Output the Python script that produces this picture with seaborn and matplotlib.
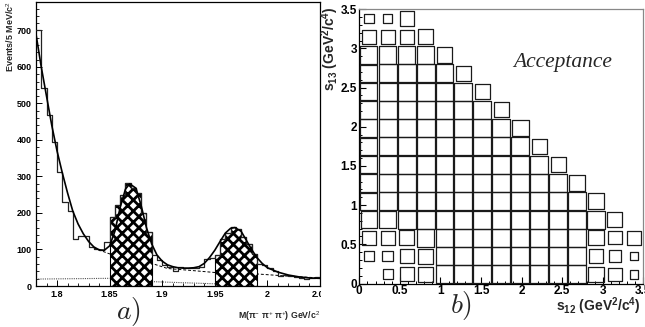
import numpy as np
import pandas as pd
import matplotlib
matplotlib.use("Agg")
import matplotlib.pyplot as plt
import seaborn as sns
from matplotlib.transforms import Bbox, TransformedBbox
from matplotlib.ticker import MultipleLocator, FixedLocator, FuncFormatter

sns.set_theme(style="white")
plt.rcParams['font.family'] = ['Liberation Sans', 'DejaVu Sans']
plt.rcParams['mathtext.fontset'] = 'custom'
plt.rcParams['mathtext.rm'] = 'Liberation Sans'
plt.rcParams['mathtext.bf'] = 'Liberation Sans:bold'
plt.rcParams['mathtext.it'] = 'Liberation Sans:italic'
plt.rcParams['hatch.linewidth'] = 2.0
plt.rcParams['hatch.color'] = 'black'

# ---------------- data: panel a) ----------------
mass_lo = 1.78
mass_hi = 2.05
bin_width = 0.005
counts = [702, 542, 469, 395, 312, 230, 205, 130, 138, 136,
          106, 101, 98, 121, 188, 222, 250, 281, 268, 256,
          200, 147, 84, 70, 58, 52, 42, 52, 50, 49,
          48, 52, 75, 76, 85, 130, 145, 162, 155, 135,
          115, 88, 61, 58, 48, 42, 27, 30, 28, 25,
          22, 20, 22, 24]
signal_windows = [(1.85, 1.89), (1.95, 1.99)]

fit_x = [1.78, 1.785, 1.79, 1.795, 1.80, 1.805, 1.81, 1.815, 1.82, 1.825,
         1.83, 1.835, 1.84, 1.845, 1.85, 1.855, 1.86, 1.865, 1.869, 1.875,
         1.88, 1.885, 1.89, 1.895, 1.90, 1.905, 1.91, 1.915, 1.92, 1.925,
         1.93, 1.935, 1.94, 1.945, 1.95, 1.955, 1.96, 1.965, 1.969, 1.975,
         1.98, 1.985, 1.99, 1.995, 2.00, 2.01, 2.02, 2.03, 2.04, 2.05]
fit_y = [690, 600, 520, 440, 370, 310, 255, 205, 170, 143,
         122, 107, 99, 98, 110, 150, 215, 265, 280, 268,
         220, 160, 115, 85, 68, 58, 53, 50, 49, 49,
         50, 53, 62, 78, 98, 122, 145, 158, 160, 150,
         125, 100, 78, 62, 50, 38, 30, 25, 22, 21]

bkg_x = [1.835, 1.85, 1.87, 1.89, 1.905, 1.93, 1.95, 1.97, 1.99, 2.02, 2.05]
bkg_y = [104, 88, 75, 62, 48, 42, 37, 35, 33, 27, 22]

comb_x = [1.78, 1.85, 1.89, 1.95]
comb_y = [19, 21, 12, 6]
comb_group = ['l', 'l', 'r', 'r']

# ---------------- data: panel b) ----------------
dalitz_lo = 0.0
dalitz_hi = 3.5
n_bins = 15
# box side (fraction of bin width), rows from s13 low (row 0) to high (row 14)
box_rows = [
    [0.0, 0.52, 0.75, 0.8, 0.95, 0.95, 0.95, 0.95, 0.95, 0.95, 0.95, 0.95, 0.8, 0.72, 0.45],
    [0.5, 0.55, 0.75, 0.8, 0.95, 0.95, 0.95, 0.95, 0.95, 0.95, 0.95, 0.95, 0.78, 0.65, 0.45],
    [0.75, 0.75, 0.78, 0.92, 0.95, 0.95, 0.95, 0.95, 0.95, 0.95, 0.95, 0.95, 0.8, 0.7, 0.75],
    [0.87, 0.92, 0.95, 0.95, 0.95, 0.95, 0.95, 0.95, 0.95, 0.95, 0.95, 0.95, 0.95, 0.8],
    [0.9, 0.95, 0.95, 0.95, 0.95, 0.95, 0.95, 0.95, 0.95, 0.95, 0.95, 0.95, 0.85],
    [0.92, 0.95, 0.95, 0.95, 0.95, 0.95, 0.95, 0.95, 0.95, 0.95, 0.95, 0.85],
    [0.92, 0.95, 0.95, 0.95, 0.95, 0.95, 0.95, 0.95, 0.95, 0.95, 0.8],
    [0.92, 0.95, 0.95, 0.95, 0.95, 0.95, 0.95, 0.95, 0.95, 0.8],
    [0.92, 0.95, 0.95, 0.95, 0.95, 0.95, 0.95, 0.95, 0.88],
    [0.92, 0.95, 0.95, 0.95, 0.95, 0.95, 0.95, 0.8],
    [0.92, 0.95, 0.95, 0.95, 0.95, 0.95, 0.8],
    [0.92, 0.95, 0.95, 0.95, 0.95, 0.8],
    [0.9, 0.9, 0.9, 0.9, 0.8],
    [0.75, 0.75, 0.75, 0.8],
    [0.5, 0.45, 0.75],
]

W, H = 645, 327
fig = plt.figure(figsize=(W / 100, H / 100), dpi=100)
fig.patch.set_facecolor('white')

# ---------------- panel a ----------------
ax1 = fig.add_axes([36 / W, 1 - 286 / H, (320 - 36) / W, (286 - 2) / H])
edges = np.round(np.arange(len(counts) + 1) * bin_width + mass_lo, 4)
centers = (edges[:-1] + edges[1:]) / 2
hist_df = pd.DataFrame({'m': centers, 'n': counts})

sns.lineplot(x=bkg_x, y=bkg_y, ax=ax1, color='black', lw=0.7,
             linestyle=(0, (3, 2)), zorder=1)
sns.lineplot(x=comb_x, y=comb_y, units=comb_group, estimator=None, ax=ax1,
             color='#555555', lw=0.8, linestyle=(0, (1, 1)), zorder=1)

for lo, hi in signal_windows:
    sel = hist_df[(hist_df.m > lo) & (hist_df.m < hi)]
    sub_edges = [float(e) for e in edges if lo - 1e-9 <= e <= hi + 1e-9]
    sns.histplot(data=sel, x='m', weights='n', bins=sub_edges, element='step',
                 fill=True, facecolor='white', edgecolor='black', hatch='xxx',
                 linewidth=0.8, alpha=1, ax=ax1, zorder=2)

sns.histplot(data=hist_df, x='m', weights='n', bins=[float(e) for e in edges],
             element='step', fill=False, color='#222222', linewidth=0.9,
             ax=ax1, zorder=3)
sns.lineplot(x=fit_x, y=fit_y, ax=ax1, color='black', lw=1.2, zorder=4)

ax1.set_xlim(mass_lo, mass_hi)
ax1.set_ylim(0, 778)
ax1.set_xlabel('')
ax1.set_ylabel('')
ax1.xaxis.set_major_locator(FixedLocator([1.8, 1.85, 1.9, 1.95, 2.0, 2.05]))
ax1.set_xticklabels(['1.8', '1.85', '1.9', '1.95', '2', '2.05'])
ax1.xaxis.set_minor_locator(MultipleLocator(0.01))
ax1.yaxis.set_major_locator(MultipleLocator(100))
ax1.yaxis.set_minor_locator(MultipleLocator(20))
ax1.tick_params(axis='both', which='both', direction='in', colors='black',
                labelsize=6.5, bottom=True, left=True, top=False, right=False)
ax1.tick_params(which='major', length=4, width=0.7, pad=3)
ax1.tick_params(which='minor', length=2, width=0.6)
for lbl in ax1.get_xticklabels() + ax1.get_yticklabels():
    lbl.set_fontweight('bold')
for sp in ax1.spines.values():
    sp.set_color('black')
    sp.set_linewidth(0.9)
clip = TransformedBbox(Bbox([[0, 0], [321 / W, 1]]), fig.transFigure)
last = ax1.get_xticklabels()[-1]
last.set_clip_on(True)
last.set_clip_box(clip)

fig.text(10 / W, 1 - 1 / H, 'Events/5 MeV/c$^{2}$', rotation=90, ha='center',
         va='top', fontsize=6.5, fontweight='bold')
fig.text(320 / W, 1 - 316 / H, 'M(π$^{-}$ π$^{+}$ π$^{+}$) GeV/c$^{2}$',
         ha='right', va='center', fontsize=6.3, fontweight='bold')
fig.text(128 / W, 1 - 311 / H, r'$a)$', math_fontfamily='cm', fontsize=20,
         ha='center', va='center')

# ---------------- panel b ----------------
ax2 = fig.add_axes([359.3 / W, 1 - 283.5 / H, (643.3 - 359.3) / W, (283.5 - 9.3) / H])
ax2.set_xlim(dalitz_lo, dalitz_hi)
ax2.set_ylim(dalitz_lo, dalitz_hi)
bedges = np.linspace(dalitz_lo, dalitz_hi, n_bins + 1)
bcent = (bedges[:-1] + bedges[1:]) / 2
bw = bedges[1] - bedges[0]
recs = []
for r, row in enumerate(box_rows):
    for c, f in enumerate(row):
        if f > 0:
            recs.append((bcent[c], bcent[r], f))
box_df = pd.DataFrame(recs, columns=['s12', 's13', 'frac'])
pt_per_unit = ax2.get_position().width * fig.get_figwidth() * 72 / (dalitz_hi - dalitz_lo)
side_pt = box_df['frac'].to_numpy() * bw * pt_per_unit
sns.scatterplot(data=box_df, x='s12', y='s13', marker='s', s=side_pt ** 2,
                facecolor='none', edgecolor='#1a1a1a', linewidth=0.9,
                legend=False, ax=ax2, zorder=3)
ax2.set_xlim(dalitz_lo, dalitz_hi)
ax2.set_ylim(dalitz_lo, dalitz_hi)
ax2.set_xlabel('')
ax2.set_ylabel('')
ax2.xaxis.set_major_locator(MultipleLocator(0.5))
ax2.yaxis.set_major_locator(MultipleLocator(0.5))
ax2.xaxis.set_minor_locator(MultipleLocator(0.1))
ax2.yaxis.set_minor_locator(MultipleLocator(0.1))
ax2.xaxis.set_major_formatter(FuncFormatter(lambda v, p: f'{v:g}'))
ax2.yaxis.set_major_formatter(FuncFormatter(lambda v, p: f'{v:g}'))
ax2.tick_params(axis='both', which='both', direction='in', colors='black',
                labelsize=8.5, bottom=True, left=True, top=False, right=False)
ax2.tick_params(which='major', length=5, width=0.8, pad=1.5)
ax2.tick_params(axis='x', which='major', pad=1.0)
ax2.tick_params(which='minor', length=2.5, width=0.7)
for lbl in ax2.get_xticklabels() + ax2.get_yticklabels():
    lbl.set_fontweight('bold')
ax2.spines['left'].set_color('black')
ax2.spines['bottom'].set_color('black')
ax2.spines['top'].set_color('#888888')
ax2.spines['right'].set_color('#888888')
for sp in ax2.spines.values():
    sp.set_linewidth(0.9)

fig.text(330 / W, 1 - 6 / H, r'$\mathbf{s_{13}}$ (GeV$^{\mathbf{2}}$/c$^{\mathbf{4}}$)',
         rotation=90, ha='center', va='top', fontsize=10, fontweight='bold')
fig.text(641 / W, 1 - 311 / H, r'$\mathbf{s_{12}}$ (GeV$^{\mathbf{2}}$/c$^{\mathbf{4}}$)',
         ha='right', va='baseline', fontsize=10, fontweight='bold')
fig.text(563 / W, 1 - 63 / H, 'Acceptance', family='Liberation Serif',
         style='italic', fontsize=15.5, ha='center', va='center')
fig.text(461 / W, 1 - 306 / H, r'$b)$', math_fontfamily='cm', fontsize=20,
         ha='center', va='center')

fig.savefig('out.png', dpi=100, facecolor='white')
